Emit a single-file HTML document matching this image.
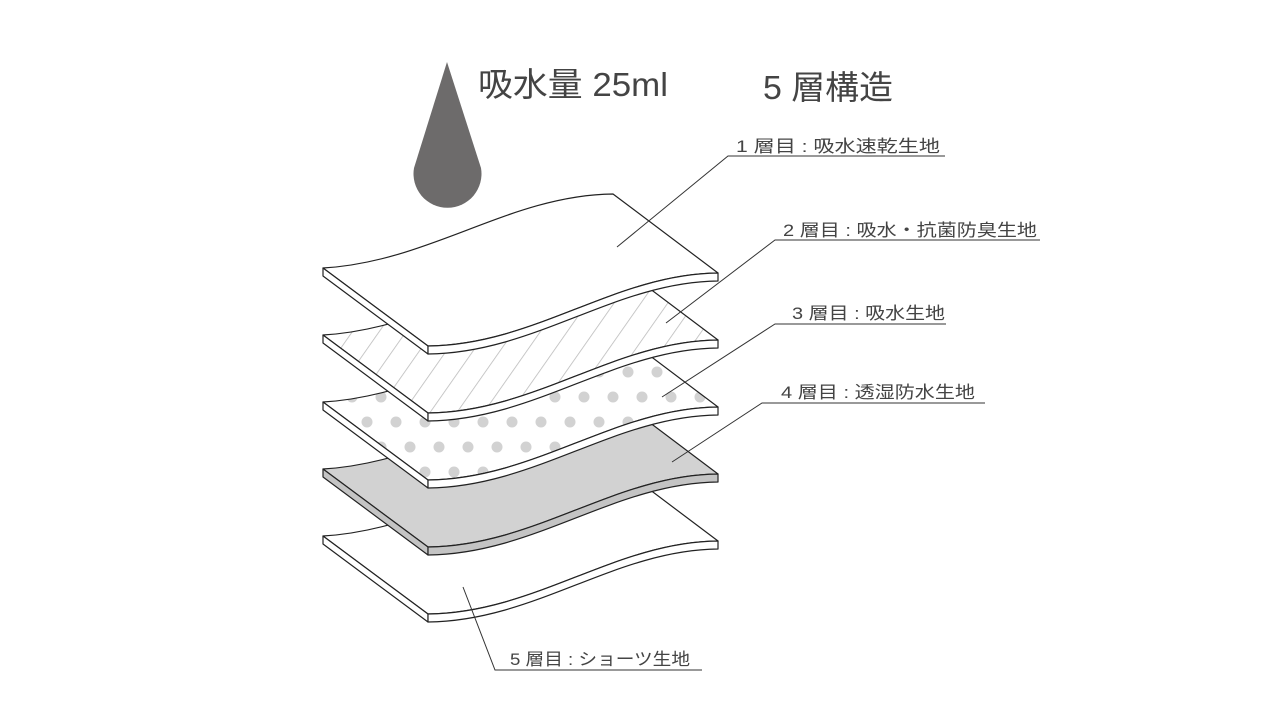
<!DOCTYPE html>
<html><head><meta charset="utf-8"><style>
html,body{margin:0;padding:0;background:#fff;}
svg{display:block;}
text{font-family:"Liberation Sans","Noto Sans CJK JP",sans-serif;fill:#444;}
</style></head><body>
<svg width="1280" height="720" viewBox="0 0 1280 720" xmlns="http://www.w3.org/2000/svg">
<defs>
<pattern id="hatch" patternUnits="userSpaceOnUse" width="22" height="22" patternTransform="rotate(35)">
<rect width="22" height="22" fill="#fff"/>
<line x1="0" y1="0" x2="0" y2="22" stroke="#bbb" stroke-width="1.6"/>
</pattern>
<pattern id="dots" patternUnits="userSpaceOnUse" x="338" y="400" width="58" height="50">
<rect width="58" height="50" fill="#fff"/>
<circle cx="14" cy="13" r="5.5" fill="#d2d2d2"/>
<circle cx="43" cy="13" r="5.5" fill="#d2d2d2"/>
<circle cx="29" cy="38" r="5.5" fill="#d2d2d2"/>
<circle cx="58" cy="38" r="5.5" fill="#d2d2d2"/>
<circle cx="0" cy="38" r="5.5" fill="#d2d2d2"/>
</pattern>
</defs>

<g stroke="#222" stroke-width="1.2" stroke-linejoin="round">
<g transform="translate(0,268)">
<path d="M323,268 C430,262 510,195 613,194 L718,273 C615,274 535,345 428,346 Z" fill="#fff"/>
<path d="M323,268 L428,346 L428,354 L323,276 Z" fill="#fff"/>
<path d="M428,346 C535,345 615,274 718,273 L718,281 C615,282 535,353 428,354 Z" fill="#fff"/>
</g>
<g transform="translate(0,201)">
<path d="M323,268 C430,262 510,195 613,194 L718,273 C615,274 535,345 428,346 Z" fill="#d2d2d2"/>
<path d="M323,268 L428,346 L428,354 L323,276 Z" fill="#c4c4c4"/>
<path d="M428,346 C535,345 615,274 718,273 L718,281 C615,282 535,353 428,354 Z" fill="#c4c4c4"/>
</g>
<g transform="translate(0,134)">
<path d="M323,268 C430,262 510,195 613,194 L718,273 C615,274 535,345 428,346 Z" fill="url(#dots)"/>
<path d="M323,268 L428,346 L428,354 L323,276 Z" fill="#fff"/>
<path d="M428,346 C535,345 615,274 718,273 L718,281 C615,282 535,353 428,354 Z" fill="#fff"/>
</g>
<g transform="translate(0,67)">
<path d="M323,268 C430,262 510,195 613,194 L718,273 C615,274 535,345 428,346 Z" fill="url(#hatch)"/>
<path d="M323,268 L428,346 L428,354 L323,276 Z" fill="#fff"/>
<path d="M428,346 C535,345 615,274 718,273 L718,281 C615,282 535,353 428,354 Z" fill="#fff"/>
</g>
<g>
<path d="M323,268 C430,262 510,195 613,194 L718,273 C615,274 535,345 428,346 Z" fill="#fff"/>
<path d="M323,268 L428,346 L428,354 L323,276 Z" fill="#fff"/>
<path d="M428,346 C535,345 615,274 718,273 L718,281 C615,282 535,353 428,354 Z" fill="#fff"/>
</g>
</g>

<path d="M447,62 L414,168 A34,34 0 1,0 481,168 Z" fill="#6d6b6b"/>

<text x="478" y="96" font-size="33" textLength="190" lengthAdjust="spacingAndGlyphs">吸水量 25ml</text>
<text x="763" y="99" font-size="33" textLength="130" lengthAdjust="spacingAndGlyphs">5 層構造</text>

<g stroke="#333" stroke-width="1" fill="none">
<polyline points="617,247 728,156 945,156"/>
<polyline points="666,323 775,240 1040,240"/>
<polyline points="662,397 775,324 946,324"/>
<polyline points="672,462 762,403 985,403"/>
<polyline points="463,587 495,670 702,670"/>
</g>
<g font-size="17">
<text x="736" y="152" textLength="204" lengthAdjust="spacingAndGlyphs">1 層目 : 吸水速乾生地</text>
<text x="783" y="236" textLength="254" lengthAdjust="spacingAndGlyphs">2 層目 : 吸水・抗菌防臭生地</text>
<text x="792" y="319" textLength="153" lengthAdjust="spacingAndGlyphs">3 層目 : 吸水生地</text>
<text x="781" y="398" textLength="194" lengthAdjust="spacingAndGlyphs">4 層目 : 透湿防水生地</text>
<text x="510" y="665" textLength="180" lengthAdjust="spacingAndGlyphs">5 層目 : ショーツ生地</text>
</g>
</svg>
</body></html>
